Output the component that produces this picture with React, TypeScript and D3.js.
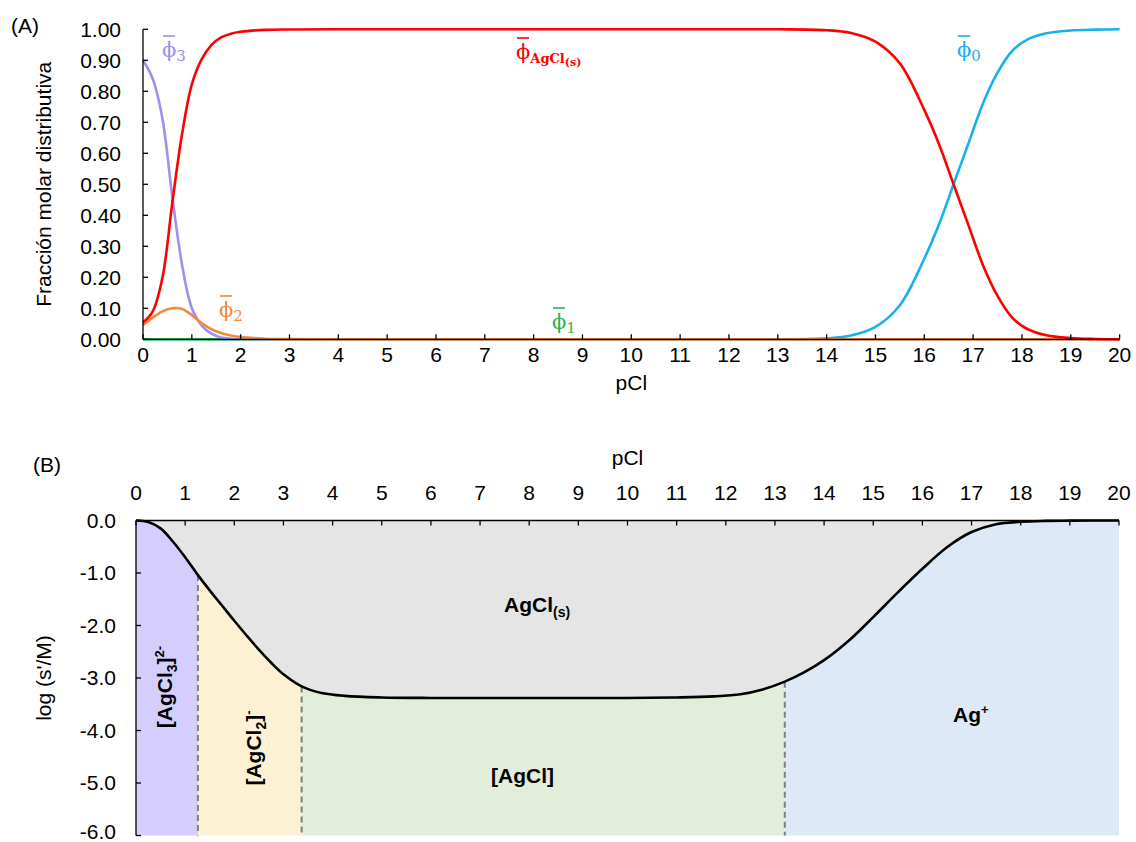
import React from 'react';
import * as d3 from 'd3';

// Panel A: distributive molar fractions vs pCl
const pCl = [0, 0.2, 0.4, 0.6, 0.8, 1.0, 1.2, 1.4, 1.6, 1.8, 2.0, 2.5, 3, 4, 6, 8, 10, 12, 13, 14, 14.5, 15, 15.5, 16, 16.3, 16.6, 16.9, 17.2, 17.5, 17.8, 18.1, 18.5, 19, 19.5, 20];
const phi3 = [0.90, 0.84, 0.71, 0.46, 0.24, 0.10, 0.045, 0.018, 0.006, 0.002, 0.001, 0, 0, 0, 0, 0, 0, 0, 0, 0, 0, 0, 0, 0, 0, 0, 0, 0, 0, 0, 0, 0, 0, 0, 0];
const phi2 = [0.046, 0.07, 0.09, 0.10, 0.098, 0.078, 0.052, 0.033, 0.02, 0.012, 0.007, 0.002, 0.0005, 0, 0, 0, 0, 0, 0, 0, 0, 0, 0, 0, 0, 0, 0, 0, 0, 0, 0, 0, 0, 0, 0];
const phi1 = [0, 0, 0, 0, 0, 0, 0, 0, 0, 0, 0, 0, 0, 0, 0, 0, 0, 0, 0, 0, 0, 0, 0, 0, 0, 0, 0, 0, 0, 0, 0, 0, 0, 0, 0];
const phi0 = [0, 0, 0, 0, 0, 0, 0, 0, 0, 0, 0, 0, 0, 0, 0, 0, 0, 0, 0, 0.003, 0.012, 0.04, 0.11, 0.26, 0.37, 0.5, 0.63, 0.76, 0.86, 0.93, 0.966, 0.987, 0.996, 0.999, 1];
const phiSolid = [0.054, 0.09, 0.20, 0.44, 0.662, 0.822, 0.903, 0.949, 0.974, 0.986, 0.992, 0.998, 0.9995, 1, 1, 1, 1, 1, 1, 0.997, 0.988, 0.96, 0.89, 0.74, 0.63, 0.5, 0.37, 0.24, 0.14, 0.07, 0.034, 0.013, 0.004, 0.001, 0];

const yTicksA = [0, 0.1, 0.2, 0.3, 0.4, 0.5, 0.6, 0.7, 0.8, 0.9, 1.0];
const xTicks = d3.range(0, 21);

// Panel B: log of conditional solubility vs pCl
const pClB = [0, 0.25, 0.5, 0.75, 1.0, 1.26, 1.5, 1.75, 2.0, 2.25, 2.5, 2.75, 3.0, 3.37, 3.75, 4.25, 5, 6, 8, 10, 11, 11.75, 12.3, 12.75, 13.2, 13.6, 14, 14.5, 15, 15.5, 16, 16.5, 17, 17.5, 18, 18.5, 19, 20];
const logS = [0, -0.03, -0.15, -0.40, -0.70, -1.04, -1.33, -1.62, -1.91, -2.19, -2.46, -2.71, -2.93, -3.16, -3.28, -3.34, -3.37, -3.38, -3.38, -3.38, -3.37, -3.35, -3.31, -3.22, -3.07, -2.89, -2.66, -2.29, -1.84, -1.37, -0.92, -0.51, -0.22, -0.07, -0.025, -0.008, -0.003, 0];
const boundaries = [0, 1.26, 3.37, 13.2, 20];
const regionColors = ['#d5cdfb', '#fdf1d3', '#e2eed9', '#dde9f7'];
const yTicksB = [0, -1, -2, -3, -4, -5, -6];

const FONT = '"Liberation Sans", Arial, Helvetica, sans-serif';
const SERIF = '"DejaVu Serif", "Liberation Serif", serif';
const FS = 21;

type Series = { name: string; values: number[]; color: string };
const seriesA: Series[] = [
  { name: 'phi0', values: phi0, color: '#19b0ec' },
  { name: 'phi1', values: phi1, color: '#2fb24c' },
  { name: 'phi3', values: phi3, color: '#a08ef2' },
  { name: 'phi2', values: phi2, color: '#f28a3e' },
  { name: 'phiS', values: phiSolid, color: '#ff0000' },
];

function PhiLabel({ x, y, color, children }: { x: number; y: number; color: string; children: React.ReactNode }) {
  return (
    <g>
      <line x1={x + 1} x2={x + 13} y1={y - 21} y2={y - 21} stroke={color} strokeWidth={1.6} />
      <text x={x} y={y} fill={color} fontFamily={SERIF} fontSize={21}>
        {'\u03D5'}
        {children}
      </text>
    </g>
  );
}

export default function App() {
  // Panel A scales
  const xA = d3.scaleLinear().domain([0, 20]).range([143, 1119.6]);
  const yA = d3.scaleLinear().domain([0, 1]).range([339.3, 29.3]);
  // Panel B scales
  const xB = d3.scaleLinear().domain([0, 20]).range([136, 1119]);
  const yB = d3.scaleLinear().domain([0, -6]).range([520.5, 835.5]);

  const smooth = d3.curveCatmullRom.alpha(0.5);
  const lineA = (vals: number[]) =>
    d3.line<number>().x((_, i) => xA(pCl[i])).y((d) => yA(d)).curve(smooth)(vals) || '';

  const ptsB = pClB.map((p, i) => [p, logS[i]] as [number, number]);
  const curveB = d3.line<[number, number]>().x((d) => xB(d[0])).y((d) => yB(d[1])).curve(smooth)(ptsB) || '';
  const belowB = d3.area<[number, number]>().x((d) => xB(d[0])).y0(yB(-6)).y1((d) => yB(d[1])).curve(smooth)(ptsB) || '';
  const aboveB = d3.area<[number, number]>().x((d) => xB(d[0])).y0(yB(0)).y1((d) => yB(d[1])).curve(smooth)(ptsB) || '';

  const valueAt = (p: number) => logS[pClB.indexOf(p)];

  return (
    <svg width={1136} height={842} style={{ position: 'absolute', left: 0, top: 0, background: '#fff' }}>
      <defs>
        {regionColors.map((_, i) => (
          <clipPath id={`reg${i}`} key={i}>
            <rect x={xB(boundaries[i])} y={0} width={xB(boundaries[i + 1]) - xB(boundaries[i])} height={842} />
          </clipPath>
        ))}
      </defs>

      {/* ---------- Panel A ---------- */}
      <text x={11} y={33} fontFamily={FONT} fontSize={FS}>(A)</text>
      {seriesA.map((s) => (
        <path key={s.name} d={lineA(s.values)} fill="none" stroke={s.color} strokeWidth={2.6} />
      ))}
      <line x1={xA(0)} x2={xA(0)} y1={yA(1)} y2={yA(0)} stroke="#000" strokeWidth={1.3} />
      <line x1={xA(0)} x2={xA(20)} y1={yA(0)} y2={yA(0)} stroke="#000" strokeWidth={1.3} />
      {yTicksA.map((t) => (
        <g key={t}>
          <line x1={xA(0)} x2={xA(0) + 5} y1={yA(t)} y2={yA(t)} stroke="#000" strokeWidth={1.3} />
          <text x={121} y={yA(t)} dy="0.35em" textAnchor="end" fontFamily={FONT} fontSize={FS}>{t.toFixed(2)}</text>
        </g>
      ))}
      {xTicks.map((t) => (
        <g key={t}>
          <line x1={xA(t)} x2={xA(t)} y1={yA(0)} y2={yA(0) - 5} stroke="#000" strokeWidth={1.3} />
          <text x={xA(t)} y={362} textAnchor="middle" fontFamily={FONT} fontSize={FS}>{t}</text>
        </g>
      ))}
      <text x={xA(10)} y={390} textAnchor="middle" fontFamily={FONT} fontSize={FS}>pCl</text>
      <text transform={`translate(51,${(yA(0) + yA(1)) / 2}) rotate(-90)`} textAnchor="middle" fontFamily={FONT} fontSize={FS}>Fracción molar distributiva</text>

      <PhiLabel x={162} y={57} color="#a08ef2"><tspan fontSize={15} dy={4}>3</tspan></PhiLabel>
      <PhiLabel x={516} y={59} color="#ff0000">
        <tspan fontSize={13} fontWeight="bold" dy={4}>AgCl</tspan>
        <tspan fontSize={11} fontWeight="bold" dy={3}>(s)</tspan>
      </PhiLabel>
      <PhiLabel x={957} y={57} color="#19b0ec"><tspan fontSize={15} dy={4}>0</tspan></PhiLabel>
      <PhiLabel x={219} y={317} color="#f28a3e"><tspan fontSize={15} dy={4}>2</tspan></PhiLabel>
      <PhiLabel x={552} y={329} color="#2fb24c"><tspan fontSize={15} dy={4}>1</tspan></PhiLabel>

      {/* ---------- Panel B ---------- */}
      <text x={33} y={472} fontFamily={FONT} fontSize={FS}>(B)</text>
      <path d={aboveB} fill="#e5e5e5" />
      {regionColors.map((c, i) => (
        <path key={i} d={belowB} fill={c} clipPath={`url(#reg${i})`} />
      ))}
      {boundaries.slice(1, -1).map((b) => (
        <line key={b} x1={xB(b)} x2={xB(b)} y1={yB(valueAt(b))} y2={yB(-6)} stroke="#7f7f7f" strokeWidth={2} strokeDasharray="6,4" />
      ))}
      <path d={curveB} fill="none" stroke="#000" strokeWidth={2.6} />
      <line x1={xB(0)} x2={xB(0)} y1={yB(0)} y2={yB(-6)} stroke="#000" strokeWidth={1.3} />
      <line x1={xB(0)} x2={xB(20)} y1={yB(0)} y2={yB(0)} stroke="#000" strokeWidth={1.3} />
      {xTicks.map((t) => (
        <g key={t}>
          <line x1={xB(t)} x2={xB(t)} y1={yB(0)} y2={yB(0) + 5} stroke="#000" strokeWidth={1.3} />
          <text x={xB(t)} y={500} textAnchor="middle" fontFamily={FONT} fontSize={FS}>{t}</text>
        </g>
      ))}
      {yTicksB.map((t) => (
        <g key={t}>
          <line x1={xB(0)} x2={xB(0) + 5} y1={yB(t)} y2={yB(t)} stroke="#000" strokeWidth={1.3} />
          <text x={116} y={Math.min(yB(t), 832)} dy="0.35em" textAnchor="end" fontFamily={FONT} fontSize={FS}>{t.toFixed(1)}</text>
        </g>
      ))}
      <text x={xB(10)} y={465} textAnchor="middle" fontFamily={FONT} fontSize={FS}>pCl</text>
      <text transform={`translate(51,${(yB(0) + yB(-6)) / 2}) rotate(-90)`} textAnchor="middle" fontFamily={FONT} fontSize={FS}>log (s'/M)</text>

      <text x={504} y={612} fontFamily={FONT} fontSize={FS} fontWeight="bold">
        AgCl<tspan fontSize={14} dy={5}>(s)</tspan>
      </text>
      <text x={491} y={783} fontFamily={FONT} fontSize={FS} fontWeight="bold">[AgCl]</text>
      <text x={953} y={722} fontFamily={FONT} fontSize={FS} fontWeight="bold">
        Ag<tspan fontSize={13} dy={-8}>+</tspan>
      </text>
      <text transform={`translate(172,687) rotate(-90)`} textAnchor="middle" fontFamily={FONT} fontSize={FS} fontWeight="bold">
        [AgCl<tspan fontSize={14} dy={5}>3</tspan><tspan dy={-5}>]</tspan><tspan fontSize={13} dy={-8}>2-</tspan>
      </text>
      <text transform={`translate(261,748) rotate(-90)`} textAnchor="middle" fontFamily={FONT} fontSize={FS} fontWeight="bold">
        [AgCl<tspan fontSize={14} dy={5}>2</tspan><tspan dy={-5}>]</tspan><tspan fontSize={13} dy={-8}>-</tspan>
      </text>
    </svg>
  );
}
